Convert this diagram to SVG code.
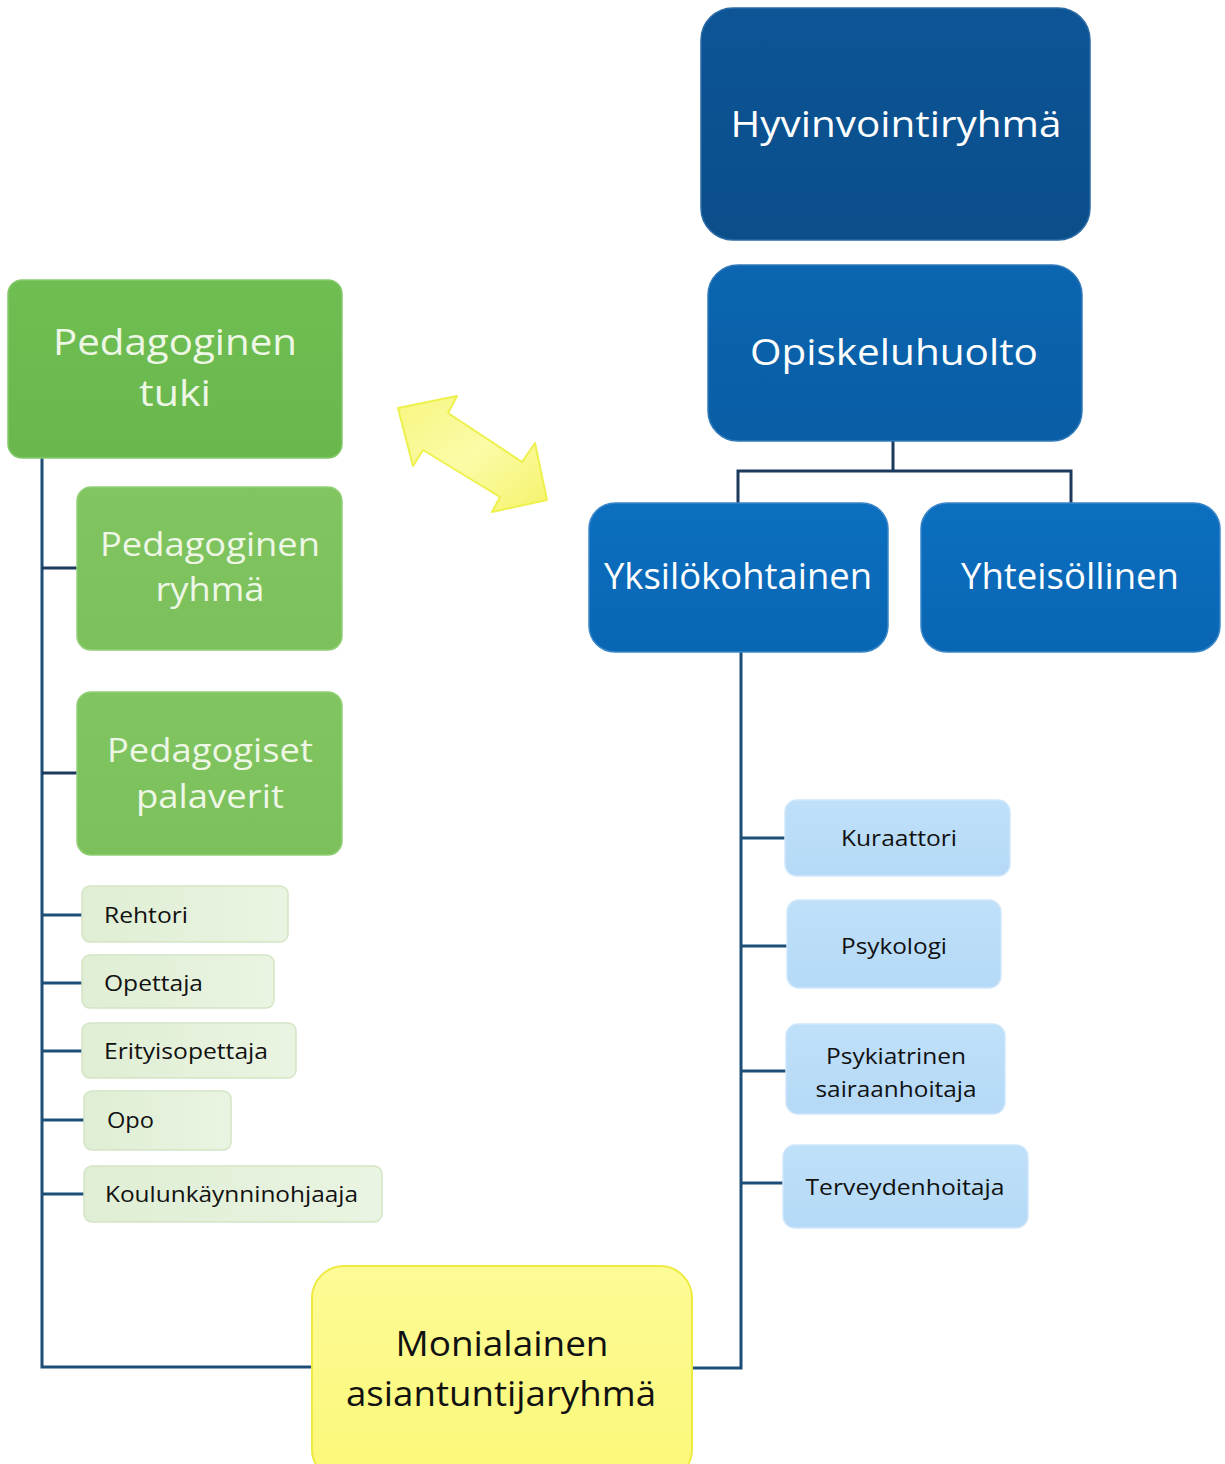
<svg xmlns="http://www.w3.org/2000/svg" width="1225" height="1464" viewBox="0 0 1225 1464">
<defs>
<linearGradient id="gDark" x1="0" y1="0" x2="0" y2="1"><stop offset="0" stop-color="#0d5597"/><stop offset="1" stop-color="#0a4e8a"/></linearGradient>
<linearGradient id="gMid" x1="0" y1="0" x2="0" y2="1"><stop offset="0" stop-color="#0b65b0"/><stop offset="1" stop-color="#095ea5"/></linearGradient>
<linearGradient id="gBlue" x1="0" y1="0" x2="0" y2="1"><stop offset="0" stop-color="#0c6fc0"/><stop offset="1" stop-color="#0966b3"/></linearGradient>
<linearGradient id="gGreen" x1="0" y1="0" x2="0" y2="1"><stop offset="0" stop-color="#6fbe52"/><stop offset="1" stop-color="#6ab84d"/></linearGradient>
<linearGradient id="gGreen2" x1="0" y1="0" x2="0" y2="1"><stop offset="0" stop-color="#80c560"/><stop offset="1" stop-color="#7bc05a"/></linearGradient>
<linearGradient id="gLG" x1="0" y1="0" x2="1" y2="0"><stop offset="0" stop-color="#dfeed4"/><stop offset="1" stop-color="#eaf4e2"/></linearGradient>
<linearGradient id="gLB" x1="0" y1="0" x2="0" y2="1"><stop offset="0" stop-color="#bfe0f9"/><stop offset="1" stop-color="#b5d9f6"/></linearGradient>
<linearGradient id="gY" x1="0" y1="0" x2="0" y2="1"><stop offset="0" stop-color="#fdfb96"/><stop offset="1" stop-color="#fbf878"/></linearGradient>
<linearGradient id="gArrow" x1="0" y1="0" x2="1" y2="1"><stop offset="0" stop-color="#f7f680"/><stop offset="0.5" stop-color="#fbfba8"/><stop offset="1" stop-color="#f5f36a"/></linearGradient>
<style>
.big{font-family:"Open Sans","Liberation Sans",sans-serif;font-size:36px;fill:#ffffff;text-anchor:middle}
.bigg{font-family:"Open Sans","Liberation Sans",sans-serif;font-size:36px;fill:#eef7e6;text-anchor:middle}
.bigs{font-family:"Open Sans","Liberation Sans",sans-serif;font-size:32px;fill:#eef7e6;text-anchor:middle}
.ylw{font-family:"Open Sans","Liberation Sans",sans-serif;font-size:35px;fill:#111111;text-anchor:middle}
.sm{font-family:"Open Sans","Liberation Sans",sans-serif;font-size:21px;fill:#111111}
.smc{font-family:"Open Sans","Liberation Sans",sans-serif;font-size:21px;fill:#111111;text-anchor:middle}
.conn{fill:none;stroke:#1d4e78;stroke-width:3}
.connd{fill:none;stroke:#1b3a5e;stroke-width:3}
.lg{fill:url(#gLG);stroke:#d3e5c5;stroke-width:1.5}
.lb{fill:url(#gLB);stroke:#cfe7fb;stroke-width:1.5}
</style>
</defs>
<rect width="1225" height="1464" fill="#ffffff"/>

<g id="connectors">
<polyline class="connd" points="893,441 893,471"/>
<polyline class="connd" points="738,503 738,471 1071,471 1071,503"/>
<polyline class="conn" points="42,458 42,1367 312,1367"/>
<line class="connd" x1="42" y1="568" x2="78" y2="568"/>
<line class="connd" x1="42" y1="773" x2="78" y2="773"/>
<line class="conn" x1="42" y1="915" x2="83" y2="915"/>
<line class="conn" x1="42" y1="983" x2="83" y2="983"/>
<line class="conn" x1="42" y1="1051" x2="83" y2="1051"/>
<line class="conn" x1="42" y1="1120" x2="85" y2="1120"/>
<line class="conn" x1="42" y1="1194" x2="85" y2="1194"/>
<polyline class="conn" points="741,652 741,1368 692,1368"/>
<line class="conn" x1="741" y1="838" x2="786" y2="838"/>
<line class="conn" x1="741" y1="946" x2="788" y2="946"/>
<line class="conn" x1="741" y1="1071" x2="787" y2="1071"/>
<line class="conn" x1="741" y1="1183" x2="784" y2="1183"/>
</g>

<g id="arrow">
<polygon points="398,408 457,396 448,413 522,462 535,443 547,500 492,512 500,497 423,450 413,466" fill="url(#gArrow)" stroke="#eef04c" stroke-width="2" stroke-linejoin="round"/>
</g>

<g id="hyvinvointiryhma">
<rect x="701" y="8" width="389" height="232" rx="32" fill="url(#gDark)" stroke="#2a6aa5" stroke-width="1.5"/>
<text class="big" x="896" y="137" textLength="331" lengthAdjust="spacingAndGlyphs">Hyvinvointiryhmä</text>
</g>

<g id="opiskeluhuolto">
<rect x="708" y="265" width="374" height="176" rx="30" fill="url(#gMid)" stroke="#3179b8" stroke-width="1.5"/>
<text class="big" x="894" y="365" textLength="288" lengthAdjust="spacingAndGlyphs">Opiskeluhuolto</text>
</g>

<g id="yksilokohtainen">
<rect x="589" y="503" width="299" height="149" rx="26" fill="url(#gBlue)" stroke="#3a86c8" stroke-width="1.5"/>
<text class="big" x="738" y="589" textLength="268" lengthAdjust="spacingAndGlyphs">Yksilökohtainen</text>
</g>

<g id="yhteisollinen">
<rect x="921" y="503" width="299" height="149" rx="26" fill="url(#gBlue)" stroke="#3a86c8" stroke-width="1.5"/>
<text class="big" x="1070" y="589" textLength="218" lengthAdjust="spacingAndGlyphs">Yhteisöllinen</text>
</g>

<g id="pedagoginen-tuki">
<rect x="8" y="280" width="334" height="178" rx="14" fill="url(#gGreen)" stroke="#85c96b" stroke-width="1.5"/>
<text class="bigg" x="175" y="355" textLength="244" lengthAdjust="spacingAndGlyphs">Pedagoginen</text>
<text class="bigg" x="175" y="406" textLength="72" lengthAdjust="spacingAndGlyphs">tuki</text>
</g>

<g id="pedagoginen-ryhma">
<rect x="77" y="487" width="265" height="163" rx="14" fill="url(#gGreen2)" stroke="#93cf78" stroke-width="1.5"/>
<text class="bigs" x="210" y="556" textLength="220" lengthAdjust="spacingAndGlyphs">Pedagoginen</text>
<text class="bigs" x="210" y="601" textLength="109" lengthAdjust="spacingAndGlyphs">ryhmä</text>
</g>

<g id="pedagogiset-palaverit">
<rect x="77" y="692" width="265" height="163" rx="14" fill="url(#gGreen2)" stroke="#93cf78" stroke-width="1.5"/>
<text class="bigs" x="210" y="762" textLength="206" lengthAdjust="spacingAndGlyphs">Pedagogiset</text>
<text class="bigs" x="210" y="808" textLength="148" lengthAdjust="spacingAndGlyphs">palaverit</text>
</g>

<g id="rehtori">
<rect class="lg" x="82" y="886" width="206" height="56" rx="8"/>
<text class="sm" x="104" y="923" textLength="84" lengthAdjust="spacingAndGlyphs">Rehtori</text>
</g>
<g id="opettaja">
<rect class="lg" x="82" y="955" width="192" height="53" rx="8"/>
<text class="sm" x="104" y="991" textLength="99" lengthAdjust="spacingAndGlyphs">Opettaja</text>
</g>
<g id="erityisopettaja">
<rect class="lg" x="82" y="1023" width="214" height="55" rx="8"/>
<text class="sm" x="104" y="1059" textLength="164" lengthAdjust="spacingAndGlyphs">Erityisopettaja</text>
</g>
<g id="opo">
<rect class="lg" x="84" y="1091" width="147" height="59" rx="8"/>
<text class="sm" x="107" y="1128" textLength="47" lengthAdjust="spacingAndGlyphs">Opo</text>
</g>
<g id="koulunkaynninohjaaja">
<rect class="lg" x="84" y="1166" width="298" height="56" rx="8"/>
<text class="sm" x="105" y="1202" textLength="253" lengthAdjust="spacingAndGlyphs">Koulunkäynninohjaaja</text>
</g>

<g id="kuraattori">
<rect class="lb" x="785" y="800" width="225" height="76" rx="12"/>
<text class="smc" x="899" y="846" textLength="116" lengthAdjust="spacingAndGlyphs">Kuraattori</text>
</g>
<g id="psykologi">
<rect class="lb" x="787" y="900" width="214" height="88" rx="12"/>
<text class="smc" x="894" y="954" textLength="106" lengthAdjust="spacingAndGlyphs">Psykologi</text>
</g>
<g id="psykiatrinen-sairaanhoitaja">
<rect class="lb" x="786" y="1024" width="219" height="90" rx="12"/>
<text class="smc" x="896" y="1064" textLength="140" lengthAdjust="spacingAndGlyphs">Psykiatrinen</text>
<text class="smc" x="896" y="1097" textLength="161" lengthAdjust="spacingAndGlyphs">sairaanhoitaja</text>
</g>
<g id="terveydenhoitaja">
<rect class="lb" x="783" y="1145" width="245" height="83" rx="12"/>
<text class="smc" x="905" y="1195" textLength="199" lengthAdjust="spacingAndGlyphs">Terveydenhoitaja</text>
</g>

<g id="monialainen">
<rect x="312" y="1266" width="380" height="215" rx="32" fill="url(#gY)" stroke="#eeea40" stroke-width="2"/>
<text class="ylw" x="502" y="1356" textLength="213" lengthAdjust="spacingAndGlyphs">Monialainen</text>
<text class="ylw" x="501" y="1406" textLength="310" lengthAdjust="spacingAndGlyphs">asiantuntijaryhmä</text>
</g>
</svg>
